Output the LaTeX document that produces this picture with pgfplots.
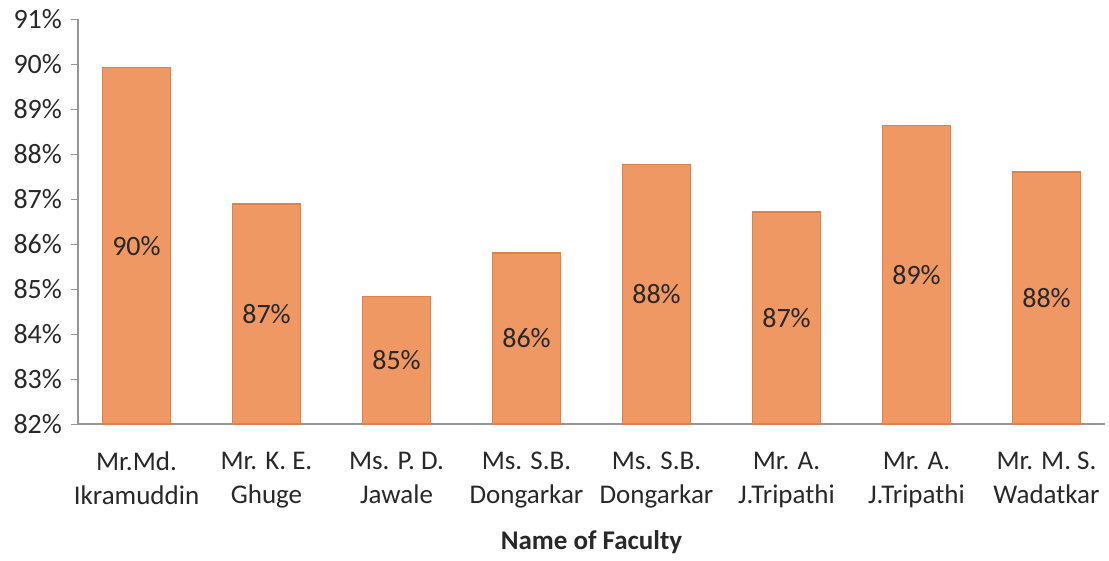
\documentclass[border=0pt]{standalone}
\usepackage{pgfplots}
\pgfplotsset{compat=1.18}
\usepackage{pgfplotstable}
\usepackage{fontspec}
\setmainfont{Carlito}
\definecolor{barEdge}{RGB}{226,128,76}
\definecolor{barFill}{RGB}{240,152,100}
\definecolor{axisGray}{RGB}{150,150,150}
\definecolor{txt}{RGB}{40,40,40}

\pgfplotstableread{
x v lbl
0 89.93 90
1 86.89 87
2 84.84 85
3 85.80 86
4 87.76 88
5 86.71 87
6 88.64 89
7 87.60 88
}\data

\begin{document}
\begin{tikzpicture}
\begin{axis}[name=ax, scale only axis, width=513.5pt, height=202.5pt,
  xmin=-0.45, xmax=7.45, ymin=82, ymax=91,
  axis x line*=bottom, axis y line*=left,
  ytick={82,...,91}, yticklabel={\pgfmathprintnumber{\tick}\%},
  xtick={0,...,7},
  xticklabels={{Mr.Md.\\Ikramuddin},{Mr. K. E.\\Ghuge},{Ms. P. D.\\Jawale},{Ms. S.B.\\Dongarkar},{Ms. S.B.\\Dongarkar},{Mr. A.\\J.Tripathi},{Mr. A.\\J.Tripathi},{Mr. M. S.\\Wadatkar}},
  tick align=outside, major tick length=3.5pt,
  xtick style={draw=none}, ytick style={axisGray},
  axis line style={axisGray, line width=0.7pt},
  yticklabel style={font=\fontsize{14}{17}\selectfont, text=txt, xshift=-1pt},
  xticklabel style={font=\fontsize{13.5}{17}\selectfont, text=txt, align=center, yshift=-7pt},
  xlabel={Name of Faculty},
  xlabel style={font=\bfseries\fontsize{13.5}{16}\selectfont, text=txt, yshift=-4.5pt},
  /pgf/number format/assume math mode=true,
  clip=false]
\addplot[ybar, bar width=34pt, draw=barEdge, line width=0.6pt, fill=barFill] table[x=x,y=v]{\data};
\addplot[draw=none, mark=none, nodes near coords={\pgfplotspointmeta\%}, point meta=explicit symbolic,
  nodes near coords style={anchor=center, font=\fontsize{14}{16}\selectfont, text=txt}]
  table[x=x, y expr=(\thisrow{v}+82)/2, meta=lbl]{\data};
\end{axis}
\pgfresetboundingbox
\path[use as bounding box] ([xshift=-39pt,yshift=-68pt]ax.south west) rectangle ([xshift=2pt,yshift=9.5pt]ax.north east);
\end{tikzpicture}
\end{document}
